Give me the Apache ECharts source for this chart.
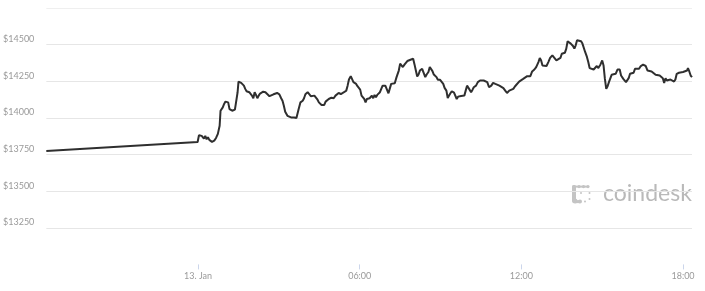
<!DOCTYPE html>
<html>
<head>
<meta charset="utf-8">
<script src="https://cdn.jsdelivr.net/npm/echarts@6/dist/echarts.min.js"></script>
<style>
html,body{margin:0;padding:0;background:#fff;}
#chart{width:705px;height:291px;}
</style>
</head>
<body>
<div id="chart"></div>
<script>
// minutes relative to 13 Jan 00:00
var minutes = [-338,-1,2,4,8,10,13,16,19,22,25,28,31,36,40,44,48,50,55,58,61,64,67,70,73,76,79,82,84,88,90,93,96,99,102,105,108,111,114,117,120,123,126,129,132,135,138,141,145,150,154,159,163,168,172,176,181,185,188,191,194,199,203,207,210,214,219,222,224,228,230,233,236,239,244,248,251,254,259,263,266,269,272,275,278,281,284,288,291,294,297,302,306,310,313,318,321,325,330,333,336,340,343,346,349,352,355,358,361,364,367,370,373,376,379,382,384,387,390,393,396,399,402,405,408,411,414,417,420,424,430,433,438,442,447,450,453,456,460,463,466,469,473,476,479,482,485,488,491,494,499,502,506,509,513,516,519,522,525,528,531,534,539,543,546,549,553,556,559,562,565,570,573,576,579,582,586,590,593,596,599,602,605,608,611,614,619,623,628,632,636,639,644,648,653,657,662,666,671,675,680,684,688,693,697,702,706,710,715,719,724,728,733,737,740,744,749,753,758,761,764,767,771,776,780,784,789,793,798,802,807,810,814,817,820,823,826,830,835,838,841,844,848,853,856,859,862,866,869,872,876,881,884,888,891,896,900,903,906,909,912,915,918,921,925,930,934,939,942,944,947,950,953,956,959,962,965,970,973,977,982,986,991,994,997,1001,1005,1010,1014,1019,1023,1028,1032,1035,1038,1041,1044,1047,1052,1056,1060,1063,1066,1071,1075,1080,1084,1089,1091,1094,1097,1100];
var prices = [13774,13835,13882,13887,13877,13882,13859,13877,13854,13868,13850,13861,13836,13845,13863,13891,13946,14049,14072,14095,14111,14124,14106,14060,14072,14049,14060,14056,14095,14175,14248,14253,14239,14244,14220,14198,14182,14186,14175,14179,14152,14134,14175,14157,14134,14152,14166,14175,14179,14175,14170,14148,14152,14161,14166,14170,14161,14134,14117,14083,14042,14014,14010,14003,13997,14003,13999,14003,14060,14106,14111,14117,14134,14161,14175,14166,14148,14157,14152,14152,14124,14106,14117,14088,14076,14088,14111,14117,14129,14122,14138,14134,14152,14148,14170,14163,14157,14175,14186,14220,14262,14285,14278,14244,14248,14232,14216,14209,14193,14152,14141,14129,14106,14129,14117,14134,14122,14152,14134,14157,14141,14157,14152,14175,14198,14220,14225,14220,14212,14168,14232,14244,14237,14278,14323,14370,14358,14347,14365,14370,14388,14378,14397,14392,14404,14365,14323,14282,14296,14323,14335,14328,14278,14296,14313,14347,14342,14319,14296,14301,14278,14260,14260,14255,14232,14205,14186,14136,14152,14168,14182,14172,14159,14129,14145,14141,14150,14145,14152,14186,14220,14220,14191,14175,14191,14209,14220,14244,14255,14244,14255,14248,14244,14209,14220,14239,14232,14244,14220,14209,14203,14186,14170,14186,14179,14198,14216,14225,14248,14255,14266,14262,14285,14289,14285,14317,14330,14347,14381,14409,14392,14358,14347,14354,14381,14409,14427,14416,14392,14388,14409,14438,14450,14445,14473,14523,14519,14507,14491,14473,14495,14530,14536,14523,14507,14500,14450,14416,14381,14340,14335,14330,14323,14354,14340,14363,14392,14358,14266,14198,14216,14244,14239,14294,14289,14301,14330,14330,14289,14301,14266,14278,14244,14255,14271,14301,14313,14308,14335,14340,14335,14354,14363,14376,14354,14323,14317,14317,14308,14294,14285,14289,14301,14271,14239,14271,14255,14266,14262,14255,14248,14262,14301,14308,14308,14313,14317,14323,14340,14317,14289,14278];
var xTickValues = [0,360,720,1080];
var xTickLabels = ['13. Jan','06:00','12:00','18:00'];
var yLabelValues = [13250,13500,13750,14000,14250,14500];

var seriesData = minutes.map(function(m,i){return [m, prices[i]];});
var chart = echarts.init(document.getElementById('chart'), null, {renderer:'canvas'});
var FONT = 'Lato, "Open Sans", sans-serif';
chart.setOption({
  animation:false,
  backgroundColor:'#ffffff',
  grid:{left:45,right:13,top:8,bottom:26.6,containLabel:false},
  xAxis:{
    type:'value', min:-338, max:1100,
    axisLine:{show:false},
    splitLine:{show:false},
    axisTick:{show:true, customValues:xTickValues, length:5, lineStyle:{color:'#ccd6eb',width:1}},
    axisLabel:{show:true, customValues:xTickValues, margin:7, color:'#9a9a9a', fontSize:9, fontFamily:FONT,
      formatter:function(v){var i=xTickValues.indexOf(v);return i>=0?xTickLabels[i]:'';}}
  },
  yAxis:{
    type:'value', min:13000, max:14750, interval:250,
    axisLine:{show:false}, axisTick:{show:false},
    splitLine:{show:true, lineStyle:{color:['rgba(0,0,0,0)','#e6e6e6','#e6e6e6','#e6e6e6','#e6e6e6','#e6e6e6','#e6e6e6','#efefef'],width:1}},
    axisLabel:{show:true, margin:12, color:'#9a9a9a', fontSize:9, fontFamily:FONT, verticalAlign:'bottom', padding:[0,0,1,0],
      formatter:function(v){return yLabelValues.indexOf(v)>=0?('$'+v):'';}}
  },
  graphic:[
    {type:'group', left:572, top:185, children:[
      {type:'rect', shape:{x:0,y:0,width:4,height:18,r:2}, style:{fill:'#c4c4c4'}},
      {type:'circle', shape:{cx:2,cy:2,r:2}, style:{fill:'#c4c4c4'}},
      {type:'circle', shape:{cx:7,cy:1.5,r:1.6}, style:{fill:'#c4c4c4'}},
      {type:'circle', shape:{cx:11.5,cy:1.5,r:1.6}, style:{fill:'#c4c4c4'}},
      {type:'circle', shape:{cx:16,cy:1.5,r:1.6}, style:{fill:'#c4c4c4'}},
      {type:'rect', shape:{x:2,y:0.5,width:14,height:2}, style:{fill:'#c4c4c4'}},
      {type:'circle', shape:{cx:3,cy:16,r:2.5}, style:{fill:'#c4c4c4'}},
      {type:'circle', shape:{cx:8,cy:16.5,r:2}, style:{fill:'#c4c4c4'}},
      {type:'rect', shape:{x:3,y:15,width:5,height:3}, style:{fill:'#c4c4c4'}},
      {type:'circle', shape:{cx:13,cy:16.5,r:1}, style:{fill:'#c4c4c4'}},
      {type:'circle', shape:{cx:17.5,cy:8,r:1}, style:{fill:'#c4c4c4'}},
      {type:'circle', shape:{cx:17.5,cy:14,r:1}, style:{fill:'#c4c4c4'}},
      {type:'circle', shape:{cx:9,cy:8,r:1}, style:{fill:'#c4c4c4'}}
    ]},
    {type:'text', left:603, top:182, style:{text:'coindesk', fill:'#b9b9b9', font:'23px '+FONT}}
  ],
  series:[{
    type:'line', data:seriesData, showSymbol:false, symbol:'none', smooth:false,
    lineStyle:{color:'#2f2f2f', width:2}, z:3
  }]
});
</script>
</body>
</html>
